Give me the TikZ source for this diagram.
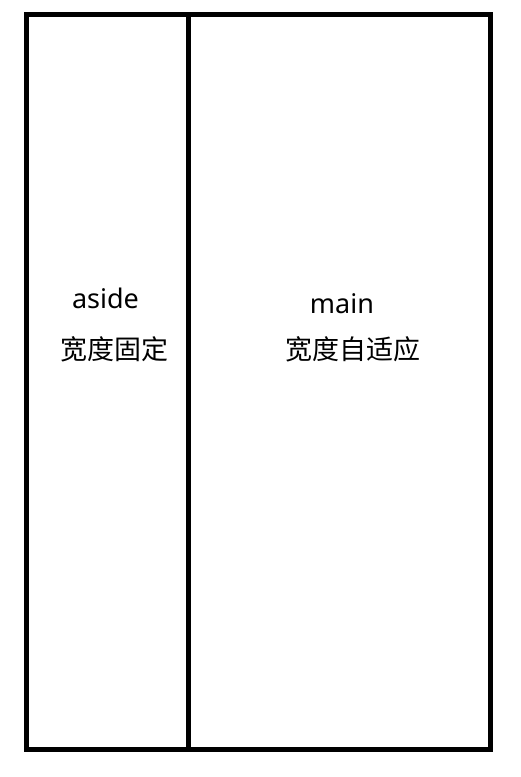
\documentclass[tikz,border=0pt]{standalone}
\usepackage{fontspec}
\setmainfont{Noto Sans}
\newfontfamily\cjk{Noto Sans CJK SC}
\begin{document}
\begin{tikzpicture}[x=1pt,y=-1pt,
  frame/.style={draw=black,line width=5pt},
  lbl/.style={font=\fontsize{27}{32}\selectfont,inner sep=0pt},
  cjklbl/.style={font=\cjk\fontsize{27}{32}\selectfont,inner sep=0pt}]
\useasboundingbox (0,0) rectangle (520,777);
\draw[frame] (26,14.5) rectangle (490,749);
\coordinate (dtop) at (188.5,14.5);
\coordinate (dbot) at (188.5,749);
\draw[frame] (dtop) -- (dbot);
\node[lbl,anchor=base] (aside) at (105.5,308.5) {aside};
\node[cjklbl] (asidew) at (114,349) {宽度固定};
\node[lbl,anchor=base] (main) at (342,313.5) {main};
\node[cjklbl] (mainw) at (353,349) {宽度自适应};
\end{tikzpicture}
\end{document}
